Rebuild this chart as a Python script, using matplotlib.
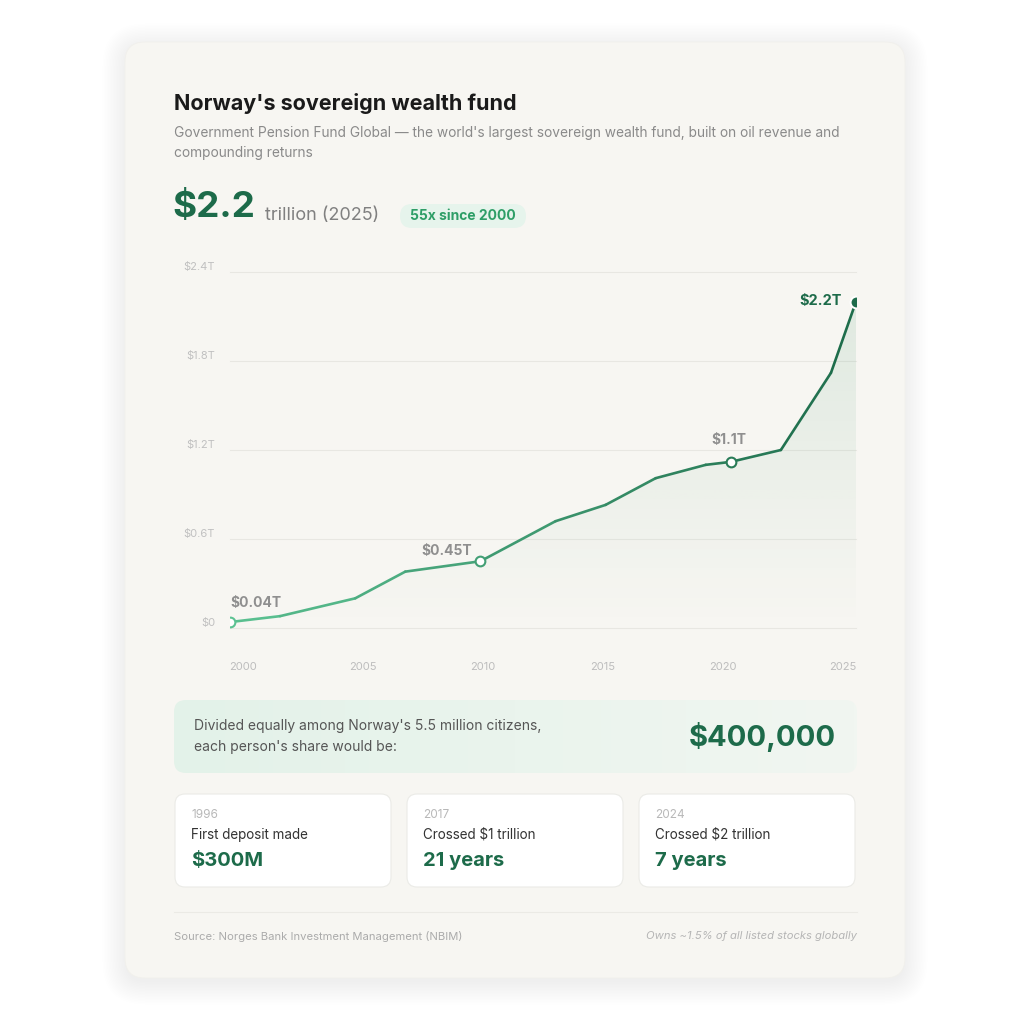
import numpy as np
import matplotlib.pyplot as plt
from matplotlib.patches import FancyBboxPatch, Polygon
from matplotlib.collections import LineCollection
from matplotlib.colors import to_rgb

plt.rcParams['font.family'] = ['Inter', 'DejaVu Sans']

# fund value, trillions USD
years = [2000, 2002, 2005, 2007, 2010, 2013, 2015, 2017, 2019, 2020, 2022, 2024, 2025]
values = [0.04, 0.08, 0.20, 0.38, 0.45, 0.72, 0.83, 1.01, 1.10, 1.12, 1.20, 1.72, 2.20]

y_ticks = [0, 0.6, 1.2, 1.8, 2.4]
y_labels = ['$0', '$0.6T', '$1.2T', '$1.8T', '$2.4T']
x_labels = ['2000', '2005', '2010', '2015', '2020', '2025']

ann_years = [2000, 2010, 2020]
ann_labels = ['$0.04T', '$0.45T', '$1.1T']

card_years = ['1996', '2017', '2024']
card_titles = ['First deposit made', 'Crossed $1 trillion', 'Crossed $2 trillion']
card_values = ['$300M', '21 years', '7 years']

GREEN = '#1d6b4a'
LIGHT = '#5cc292'

fig = plt.figure(figsize=(10.24, 10.24), dpi=100, facecolor='white')

# background layer in pixel coords
bg = fig.add_axes([0, 0, 1, 1])
bg.axis('off')


def txt(x, y, s, **kw):
    bg.text(x, y, s, parse_math=False, **kw)


def rbox(x, y, w, h, r, **kw):
    p = FancyBboxPatch((x, y), w, h, boxstyle='round,pad=0,rounding_size=%s' % r, **kw)
    bg.add_patch(p)
    return p


# card with soft shadow
for i in range(16):
    d = i * 1.5
    rbox(125 - d, 46 - d, 780 + 2 * d, 936 + 2 * d, 20 + d, fc='black', ec='none', alpha=0.0025)
rbox(125, 42, 780, 936, 20, fc='#f7f6f2', ec='#f1f0ec', lw=0.6)

# header
txt(174, 104, "Norway's sovereign wealth fund", fontsize=15.5, fontweight='bold',
    color='#1a1a1a', va='center')
txt(174, 133, "Government Pension Fund Global \u2014 the world's largest sovereign wealth fund, "
    "built on oil revenue and", fontsize=9.9, color='#8a8a8a', va='center')
txt(174, 153, "compounding returns", fontsize=9.9, color='#8a8a8a', va='center')

txt(172, 207, '$2.2', fontsize=26.5, fontweight='bold', color=GREEN, va='center')
txt(265, 215, 'trillion (2025)', fontsize=13, color='#808080', va='center')
rbox(400, 204, 126, 24, 12, fc='#e6f4ec', ec='none')
txt(463, 216, '55x since 2000', fontsize=10, fontweight='bold', color='#2e9e67',
    ha='center', va='center')

# per-person panel with horizontal gradient
panel = rbox(174, 700, 683, 73, 12, fc='none', ec='none')
c1, c2 = np.array(to_rgb('#e3f2e9')), np.array(to_rgb('#f1f6f1'))
grad = np.linspace(0, 1, 200)[None, :, None] * (c2 - c1) + c1
im = bg.imshow(grad, extent=(174, 857, 773, 700), aspect='auto', zorder=1)
im.set_clip_path(panel)
txt(194, 726, "Divided equally among Norway's 5.5 million citizens,", fontsize=10,
    color='#555555', va='center', zorder=2)
txt(194, 747, "each person's share would be:", fontsize=10, color='#555555',
    va='center', zorder=2)
txt(836, 737, '$400,000', fontsize=21, fontweight='bold', color=GREEN,
    ha='right', va='center', zorder=2)

# milestone cards
card_x = [175, 407, 639]
for cx, yr, tt, vv in zip(card_x, card_years, card_titles, card_values):
    rbox(cx, 794, 216, 93, 10, fc='white', ec='#ebebe7', lw=0.8, zorder=1)
    txt(cx + 16, 815, yr, fontsize=8.5, color='#b8b8b8', va='center', zorder=2)
    txt(cx + 16, 835, tt, fontsize=9.7, color='#333333', va='center', zorder=2)
    txt(cx + 16, 861, vv, fontsize=14.5, fontweight='bold', color=GREEN,
        va='center', zorder=2)

# footer
bg.plot([174, 857], [912, 912], color='#ebeae5', lw=0.8)
txt(174, 936, 'Source: Norges Bank Investment Management (NBIM)', fontsize=8.1,
    color='#ababab', va='center')
txt(857, 936, 'Owns ~1.5% of all listed stocks globally', fontsize=8.1,
    color='#b5b5b5', style='italic', ha='right', va='center')

bg.set_xlim(0, 1024)
bg.set_ylim(1024, 0)

# chart
ax = fig.add_axes([230 / 1024, 1 - 628 / 1024, 626 / 1024, 356 / 1024])
ax.set_facecolor('none')
for s in ax.spines.values():
    s.set_visible(False)
ax.set_xticks([])
ax.set_yticks([])

for v, lab in zip(y_ticks, y_labels):
    ax.axhline(v, color='#e8e7e2', lw=0.8, zorder=0, clip_on=False)
    ax.text(-0.024, v + 0.034, lab, transform=ax.get_yaxis_transform(), ha='right',
            va='center', fontsize=8, color='#c0c0c0', parse_math=False)

w = 1.04
for xc, lab in zip(np.linspace(2000 + w / 2, 2025 - w / 2, len(x_labels)), x_labels):
    ax.text(xc, -0.263, lab, ha='center', va='center', fontsize=8, color='#bdbdbd',
            parse_math=False)

# gradient fill under line
poly = Polygon(list(zip(years, values)) + [(2025, 0), (2000, 0)], closed=True,
               fc='none', ec='none', transform=ax.transData)
ax.add_patch(poly)
g = np.zeros((200, 1, 4))
g[..., :3] = to_rgb('#3f9468')
g[..., 3] = np.linspace(0.13, 0.0, 200)[:, None]
fim = ax.imshow(g, extent=(2000, 2025, 0, max(values)), aspect='auto', zorder=1,
                origin='upper')
fim.set_clip_path(poly)
ax.set_xlim(2000, 2025)
ax.set_ylim(0, 2.4)

# line with left-to-right colour gradient
pts = np.column_stack([years, values])
segs = np.stack([pts[:-1], pts[1:]], axis=1)
cl, cd = np.array(to_rgb(LIGHT)), np.array(to_rgb(GREEN))


def col_at(x):
    t = (x - 2000) / 25
    return cl * (1 - t) + cd * t


seg_cols = [col_at((a[0] + b[0]) / 2) for a, b in segs]
lc = LineCollection(segs, colors=seg_cols, linewidths=1.9, capstyle='round',
                    joinstyle='round', zorder=3)
ax.add_collection(lc)

offsets = [(0, 19, 'left'), (-8, 10, 'right'), (-2, 22, 'center')]
for yr, lab, (dx, dy, ha) in zip(ann_years, ann_labels, offsets):
    v = values[years.index(yr)]
    ax.plot(yr, v, 'o', ms=7, mfc='white', mec=col_at(yr), mew=1.5, zorder=5)
    ax.annotate(lab, (yr, v), xytext=(dx, dy), textcoords='offset pixels', ha=ha,
                va='center', fontsize=10, fontweight='bold', color='#8f8f8f',
                annotation_clip=False, parse_math=False)

ax.plot(years[-1], values[-1], 'o', ms=8.5, mfc=GREEN, mec='white', mew=1.4, zorder=6)
ax.annotate('$2.2T', (years[-1], values[-1]), xytext=(-14, 1), textcoords='offset pixels',
            ha='right', va='center', fontsize=10.5, fontweight='bold', color=GREEN,
            annotation_clip=False, parse_math=False)

fig.savefig('out.png', dpi=100, facecolor='white')
